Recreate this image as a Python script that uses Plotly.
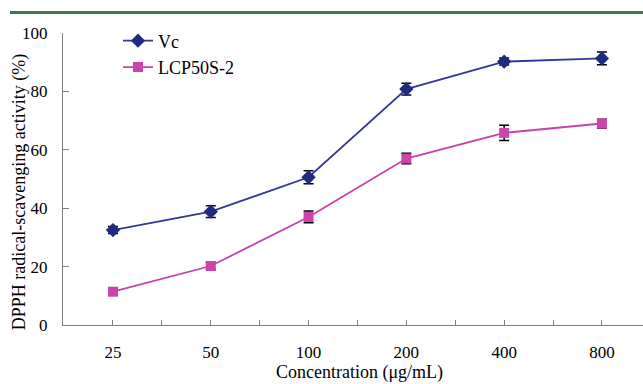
import plotly.graph_objects as go

categories = ["25", "50", "100", "200", "400", "800"]
vc_values = [32.5, 38.8, 50.6, 80.8, 90.2, 91.3]
vc_err = [1.2, 2.0, 2.2, 2.0, 1.2, 2.2]
lcp_values = [11.4, 20.2, 37.0, 57.0, 65.8, 69.0]
lcp_err = [1.2, 1.2, 2.0, 1.8, 2.6, 1.5]
y_ticks = [0, 20, 40, 60, 80, 100]

W, H = 643, 384
L, R, T, B = 63, 0, 32.5, 59
pw = W - L - R
ph = H - T - B

xi = list(range(len(categories)))
x_tickvals = [i * 0.5 for i in range(0, 2 * len(categories) - 1)]
x_ticktext = [categories[int(v)] if v == int(v) else "" for v in x_tickvals]

font_fam = "Liberation Serif, Times New Roman, serif"

fig = go.Figure()
fig.add_trace(go.Scatter(
    x=xi, y=vc_values, name="Vc", mode="lines+markers",
    line=dict(color="#33379A", width=1.8),
    marker=dict(symbol="diamond", size=11, color="#1F2A80"),
    error_y=dict(type="data", array=vc_err, color="black", thickness=1.5, width=5),
    legendgroup="a",
))
fig.add_trace(go.Scatter(
    x=xi, y=lcp_values, name="LCP50S-2", mode="lines+markers",
    line=dict(color="#C840A8", width=1.8),
    marker=dict(symbol="square", size=10, color="#CC44AA"),
    error_y=dict(type="data", array=lcp_err, color="black", thickness=1.5, width=5),
    legendgroup="b",
))

fig.update_layout(
    width=W, height=H,
    margin=dict(l=L, r=R, t=T, b=B, autoexpand=False),
    paper_bgcolor="white", plot_bgcolor="white",
    font=dict(family=font_fam, size=16, color="black"),
    showlegend=True,
    legend=dict(x=(118 - L) / pw, y=(H - B - 22) / ph, xanchor="left", yanchor="top",
                bgcolor="rgba(0,0,0,0)", font=dict(size=18, family=font_fam),
                traceorder="grouped", tracegroupgap=0),
    xaxis=dict(range=[-0.511, 5.42], tickmode="array", tickvals=x_tickvals, ticktext=x_ticktext,
               ticks="inside", ticklen=5, tickcolor="#808080", showline=True, linecolor="#808080",
               linewidth=1, showgrid=False, zeroline=False, tickfont=dict(size=17),
               ticklabelstandoff=12),
    yaxis=dict(range=[0, 100], tickmode="array", tickvals=y_ticks,
               ticks="inside", ticklen=6, tickcolor="#808080", showline=True, linecolor="#808080",
               linewidth=1, showgrid=False, zeroline=False, tickfont=dict(size=17),
               ticklabelstandoff=11),
)

fig.add_annotation(text="Concentration (μg/mL)", xref="paper", yref="paper",
                   x=(359 - L) / pw, y=(H - B - 373) / ph, xanchor="center", yanchor="middle",
                   showarrow=False, font=dict(size=18, family=font_fam))
fig.add_annotation(text="DPPH radical-scavenging activity (%)", xref="paper", yref="paper",
                   x=(19 - L) / pw, y=(H - B - 192) / ph, xanchor="center", yanchor="middle",
                   textangle=-90, showarrow=False, font=dict(size=18, family=font_fam))

fig.add_shape(type="line", xref="paper", yref="paper",
              x0=(10 - L) / pw, x1=1.0, y0=(H - B - 12) / ph, y1=(H - B - 12) / ph,
              line=dict(color="#3B7A47", width=3))

fig.write_html("out.html", config={"displayModeBar": False},
               post_script="document.body.style.margin='0';document.body.style.overflow='hidden';")
